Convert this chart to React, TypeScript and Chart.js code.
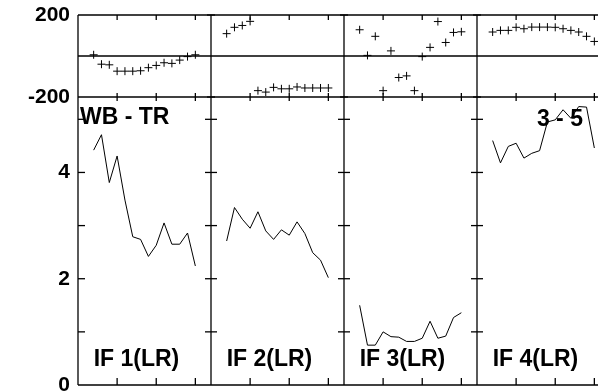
import React, { useEffect, useRef } from 'react';
import { Chart, registerables } from 'chart.js';

Chart.register(...registerables);

// ---- data ----
const panels = ['IF 1(LR)', 'IF 2(LR)', 'IF 3(LR)', 'IF 4(LR)'];
const titleLeft = 'WB - TR';
const titleRight = '3 - 5';
const steps = [2, 3, 4, 5, 6, 7, 8, 9, 10, 11, 12, 13, 14, 15];
const columnSpan = 17;
const columnTicks = [5, 10, 15];

const phase1 = [6, -40, -43, -74, -74, -74, -72, -57, -46, -33, -36, -20, -3, 6];
const phase2 = [109, 140, 149, 169, -169, -176, -153, -160, -160, -151, -156, -156, -156, -156];
const phase3 = [128, 3, 96, -169, 25, -105, -97, -169, -3, 42, 168, 66, 115, 118];
const phase4 = [117, 125, 125, 140, 133, 141, 141, 141, 140, 133, 125, 117, 96, 71];

const amp1 = [4.42, 4.71, 3.81, 4.31, 3.48, 2.79, 2.74, 2.42, 2.63, 3.05, 2.65, 2.65, 2.86, 2.24];
const amp2 = [2.71, 3.34, 3.12, 2.95, 3.26, 2.9, 2.74, 2.92, 2.82, 3.07, 2.85, 2.49, 2.35, 2.02];
const amp3 = [1.5, 0.75, 0.75, 1.0, 0.91, 0.9, 0.82, 0.82, 0.88, 1.2, 0.88, 0.92, 1.27, 1.36];
const amp4 = [4.6, 4.18, 4.49, 4.55, 4.27, 4.36, 4.41, 4.95, 4.99, 5.18, 5.02, 5.24, 5.23, 4.46];

const phaseTicks = [-200, 0, 200];
const phaseLabels = ['-200', '', '200'];
const ampTicks = [0, 1, 2, 3, 4, 5];
const ampLabels = ['0', '', '2', '', '4', ''];
const phaseMin = -200;
const phaseMax = 200;
const ampMin = 0;
const ampMax = 5.42;
const xMin = 0;
const xMax = 68;

const FONT = '"Liberation Sans", Arial, Helvetica, sans-serif';

export default function App() {
  const ref = useRef<HTMLCanvasElement>(null);

  useEffect(() => {
    document.body.style.margin = '0';
    document.body.style.overflow = 'hidden';
    const phases = [phase1, phase2, phase3, phase4];
    const amps = [amp1, amp2, amp3, amp4];
    const datasets: any[] = [];
    phases.forEach((arr, c) => {
      datasets.push({
        type: 'scatter',
        data: arr.map((v, i) => ({ x: c * columnSpan + steps[i], y: v })),
        xAxisID: 'x',
        yAxisID: 'yt',
        showLine: false,
        pointStyle: 'cross',
        pointRadius: 4,
        pointBorderWidth: 1,
        borderColor: '#000',
        backgroundColor: '#000',
      });
    });
    amps.forEach((arr, c) => {
      datasets.push({
        type: 'line',
        data: arr.map((v, i) => ({ x: c * columnSpan + steps[i], y: v })),
        xAxisID: 'x',
        yAxisID: 'yb',
        borderColor: '#000',
        borderWidth: 1,
        pointRadius: 0,
        tension: 0,
        fill: false,
      });
    });

    const framePlugin = {
      id: 'frame',
      afterDatasetsDraw(chart: any) {
        const { ctx, chartArea: a, scales } = chart;
        const x = scales.x;
        const yt = scales.yt;
        const yb = scales.yb;
        const top = yt.getPixelForValue(phaseMax);
        const mid = yt.getPixelForValue(phaseMin);
        const zero = yt.getPixelForValue(0);
        const bottom = yb.getPixelForValue(ampMin);
        ctx.save();
        ctx.strokeStyle = '#000';
        ctx.lineWidth = 1.3;
        const line = (x1: number, y1: number, x2: number, y2: number) => {
          ctx.beginPath();
          ctx.moveTo(x1, y1);
          ctx.lineTo(x2, y2);
          ctx.stroke();
        };
        line(a.left, top, a.right, top);
        line(a.left, mid, a.right, mid);
        line(a.left, zero, a.right, zero);
        line(a.left, bottom, a.right, bottom);
        for (let c = 0; c <= panels.length; c++) {
          const px = x.getPixelForValue(c * columnSpan);
          line(px, top, px, bottom);
          if (c < panels.length) {
            columnTicks.forEach((t) => {
              const tx = x.getPixelForValue(c * columnSpan + t);
              line(tx, top, tx, top + 5);
              line(tx, mid - 4, tx, mid + 4);
              line(tx, bottom - 7, tx, bottom);
            });
          }
          ampTicks.forEach((v) => {
            if (v === ampMin) return;
            const ty = yb.getPixelForValue(v);
            if (c === 0) line(px, ty, px + 7, ty);
            else line(px - 6, ty, px + 6, ty);
          });
          if (c > 0) {
            [phaseMin, phaseMax].forEach((v) => {
              const ty = yt.getPixelForValue(v);
              line(px - 4, ty, px + 4, ty);
            });
          }
        }
        ctx.fillStyle = '#000';
        ctx.font = `bold 23px ${FONT}`;
        ctx.textBaseline = 'middle';
        ctx.textAlign = 'left';
        ctx.fillText(titleLeft, x.getPixelForValue(0.25), yb.getPixelForValue(5.03));
        ctx.textAlign = 'center';
        ctx.fillText(titleRight, x.getPixelForValue(61.6), yb.getPixelForValue(5.0));
        ctx.textAlign = 'left';
        panels.forEach((p, c) => {
          ctx.fillText(p, x.getPixelForValue(c * columnSpan + 2), yb.getPixelForValue(0.48));
        });
        ctx.restore();
      },
    };

    const tickFont = { family: FONT, size: 21, weight: 'bold' as const, lineHeight: 1 };
    const chart = new Chart(ref.current as HTMLCanvasElement, {
      type: 'line',
      data: { datasets },
      options: {
        animation: false,
        responsive: false,
        devicePixelRatio: 1,
        layout: { padding: { top: 15, right: 10, bottom: 17, left: 0 } },
        plugins: { legend: { display: false }, tooltip: { enabled: false } },
        scales: {
          x: { type: 'linear', min: xMin, max: xMax, display: false },
          yb: {
            type: 'linear',
            position: 'left',
            stack: 'v',
            stackWeight: 288,
            min: ampMin,
            max: ampMax,
            grid: { display: false, drawTicks: true, tickLength: 6 },
            border: { display: false },
            ticks: {
              autoSkip: false,
              padding: 2,
              color: '#000',
              font: tickFont,
              callback: (_v: any, i: number) => ampLabels[i],
            },
            afterBuildTicks: (s: any) => {
              s.ticks = ampTicks.map((v) => ({ value: v }));
            },
            afterFit: (s: any) => {
              s.width = 78;
            },
          },
          yt: {
            type: 'linear',
            position: 'left',
            stack: 'v',
            stackWeight: 82,
            min: phaseMin,
            max: phaseMax,
            grid: { display: false, drawTicks: true, tickLength: 6 },
            border: { display: false },
            ticks: {
              autoSkip: false,
              padding: 2,
              color: '#000',
              font: tickFont,
              callback: (_v: any, i: number) => phaseLabels[i],
            },
            afterBuildTicks: (s: any) => {
              s.ticks = phaseTicks.map((v) => ({ value: v }));
            },
            afterFit: (s: any) => {
              s.width = 78;
            },
          },
        } as any,
      },
      plugins: [framePlugin],
    } as any);
    return () => chart.destroy();
  }, []);

  return (
    <div style={{ position: 'fixed', left: 0, top: 0, width: 620, height: 402 }}>
      <canvas ref={ref} width={620} height={402} style={{ display: 'block' }} />
    </div>
  );
}
